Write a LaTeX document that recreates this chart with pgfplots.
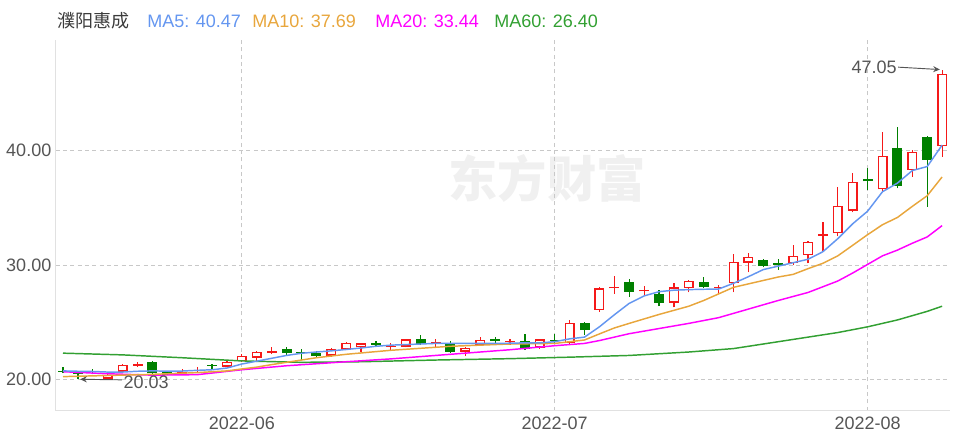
\documentclass[border=0pt]{standalone}
\usepackage{pgfplots}
\pgfplotsset{compat=1.18}
\usepackage{pgfplotstable}
\usepackage{fontspec}
\setmainfont{Liberation Sans}
\newfontfamily\cjk{Noto Sans CJK SC}
\usetikzlibrary{arrows.meta}

\definecolor{kred}{RGB}{245,25,25}
\definecolor{kgreen}{RGB}{0,128,0}
\definecolor{ma5}{RGB}{100,150,240}
\definecolor{ma10}{RGB}{232,166,60}
\definecolor{ma20}{RGB}{255,0,255}
\definecolor{ma60}{RGB}{50,160,50}
\definecolor{txt}{RGB}{85,85,85}
\definecolor{txtdark}{RGB}{60,60,60}
\definecolor{gridc}{RGB}{200,200,200}
\definecolor{axc}{RGB}{225,225,225}

% rising candles (index, open, close, high, low)
\pgfplotstableread{
i o c h l
3 20.08 20.42 20.48 20.06
4 20.68 21.27 21.32 20.62
5 21.20 21.35 21.50 21.10
8 20.50 20.65 20.88 20.42
9 20.75 20.85 21.10 20.65
11 21.12 21.55 21.60 21.05
12 21.60 22.05 22.20 21.50
13 21.90 22.43 22.48 21.55
14 22.30 22.50 22.85 22.25
18 22.08 22.66 22.72 22.00
19 22.64 23.21 23.25 22.55
20 22.81 23.16 23.22 22.43
22 22.85 22.95 23.20 22.60
23 22.86 23.51 23.55 22.80
25 23.10 23.25 23.50 22.80
27 22.43 22.78 22.82 22.05
28 23.00 23.45 23.68 22.95
30 23.25 23.35 23.55 23.05
32 22.78 23.51 23.55 22.70
34 23.16 24.96 25.20 23.10
36 26.07 27.97 28.05 25.92
37 27.95 28.10 29.07 27.50
39 27.70 27.85 28.15 27.40
41 26.71 28.05 28.45 26.30
42 27.97 28.63 28.70 27.60
44 28.00 28.10 28.25 27.50
45 28.40 30.29 30.96 27.60
46 30.20 30.73 31.07 29.35
49 30.15 30.79 31.75 30.00
50 30.87 32.03 32.10 30.15
51 32.55 32.70 33.73 31.20
52 32.77 35.18 36.80 32.50
53 34.74 37.28 38.00 34.60
55 36.61 39.52 41.65 36.40
57 38.30 39.90 40.04 37.71
59 40.39 46.68 47.05 39.46
}\redk

% falling candles
\pgfplotstableread{
i o c h l
0 20.76 20.68 21.05 20.55
1 20.68 20.52 20.75 20.03
2 20.70 20.64 20.92 20.45
6 21.55 20.55 21.60 20.40
7 20.63 20.40 20.66 20.35
10 21.30 21.20 21.35 20.85
15 22.64 22.30 22.80 22.10
16 22.38 22.30 22.64 21.70
17 22.29 22.05 22.50 22.00
21 23.15 23.05 23.40 22.90
24 23.54 23.10 23.90 23.05
26 23.21 22.43 23.40 22.30
29 23.50 23.40 23.70 23.10
31 23.39 22.66 23.95 22.60
33 23.45 23.35 23.95 23.10
35 24.96 24.32 25.00 23.90
38 28.54 27.67 28.80 27.23
40 27.47 26.71 27.80 26.40
43 28.54 28.05 28.98 28.00
47 30.44 29.91 30.50 29.80
48 30.20 30.00 30.50 29.60
54 37.50 37.30 38.44 36.55
56 40.19 36.90 42.03 36.70
58 41.20 39.17 41.30 35.09
}\greenk

\pgfplotstableread{
i v
0 20.75
1 20.72
2 20.70
3 20.65
4 20.65
5 20.72
6 20.75
7 20.73
8 20.74
9 20.80
10 20.85
11 21.00
12 21.35
13 21.60
14 21.85
15 22.10
16 22.29
17 22.40
18 22.50
19 22.62
20 22.75
21 22.90
22 23.00
23 23.05
24 23.10
25 23.15
26 23.16
27 23.15
28 23.15
29 23.15
30 23.17
31 23.20
32 23.20
33 23.30
34 23.55
35 23.70
36 24.60
37 25.65
38 26.65
39 27.30
40 27.67
41 27.80
42 27.85
43 27.88
44 27.90
45 28.40
46 28.98
47 29.60
48 29.90
49 30.20
50 30.50
51 31.16
52 32.30
53 33.60
54 34.70
55 36.40
56 37.15
57 38.25
58 38.60
59 40.47
}\mafive

\pgfplotstableread{
i v
0 20.25
3 20.35
6 20.45
9 20.60
11 20.75
12 20.92
13 21.08
14 21.30
15 21.50
16 21.70
17 21.90
19 22.20
22 22.55
26 22.90
30 23.10
33 23.15
34 23.30
35 23.45
36 23.98
37 24.50
38 24.90
40 25.68
42 26.40
43 26.90
45 28.05
46 28.35
48 28.95
49 29.18
50 29.68
51 30.15
52 30.80
53 31.72
54 32.65
55 33.52
56 34.15
57 35.12
58 36.05
59 37.69
}\maten

\pgfplotstableread{
i v
0 20.68
3 20.50
6 20.38
9 20.42
12 20.85
15 21.20
19 21.55
22 21.80
26 22.20
30 22.60
33 22.95
35 23.15
36 23.40
38 24.00
40 24.45
42 24.90
44 25.40
46 26.15
48 26.90
50 27.60
51 28.10
52 28.60
53 29.30
54 30.05
55 30.80
56 31.30
57 31.90
58 32.45
59 33.44
}\matwenty

\pgfplotstableread{
i v
0 22.30
4 22.15
8 21.90
12 21.62
16 21.50
20 21.55
25 21.70
30 21.82
34 21.95
38 22.10
42 22.40
45 22.70
48 23.30
50 23.70
52 24.10
54 24.60
56 25.20
58 25.95
59 26.40
}\masixty

\pgfplotsset{candle/.style={draw=none, mark=none,
    error bars/.cd, y dir=plus, y explicit, error mark=none, /pgfplots/.cd}}

\begin{document}
\begin{tikzpicture}[x=0.75pt,y=0.75pt]
\path[use as bounding box] (-55.55,-30.3) rectangle (897.45,410.7);
\node[text=gray!12, font=\cjk\bfseries\fontsize{37}{40}\selectfont] at (491.5,232.7) {东方财富};
\begin{axis}[
    at={(0,0)}, anchor=south west,
    scale only axis,
    width=670.5pt, height=278pt,
    xmin=-0.5, xmax=59.5,
    ymin=17.275, ymax=49.65,
    axis line style={draw=none},
    major tick length=0pt,
    xtick={12,33,54},
    xticklabels={2022-06,2022-07,2022-08},
    ytick={20,30,40},
    yticklabels={20.00,30.00,40.00},
    grid=major,
    major grid style={draw=gridc, dash pattern=on 3pt off 2.5pt, line width=0.75pt},
    ticklabel style={font=\fontsize{13.5}{16}\selectfont, text=txt},
    yticklabel style={inner sep=0pt, xshift=-3pt},
    xticklabel style={inner sep=0pt, yshift=-4.5pt},
    clip=false,
]
\draw[axc, line width=0.75pt] (rel axis cs:0,1) -- (rel axis cs:0,0) -- (rel axis cs:1,0);

% wicks
\addplot[candle, error bars/error bar style={kred, line width=0.9pt}]
    table[x=i, y=l, y error plus expr=\thisrow{h}-\thisrow{l}] {\redk};
\addplot[candle, error bars/error bar style={kgreen, line width=0.9pt}]
    table[x=i, y=l, y error plus expr=\thisrow{h}-\thisrow{l}] {\greenk};

% bodies
\addplot[candle, error bars/error bar style={kred, line width=7.5pt}]
    table[x=i, y=o, y error plus expr=\thisrow{c}-\thisrow{o}] {\redk};
\addplot[restrict expr to domain={\thisrow{c}-\thisrow{o}}{0.34:1000}, candle,
    error bars/error bar style={white, line width=5.4pt}]
    table[x=i, y expr=\thisrow{o}+0.12, y error plus expr=\thisrow{c}-\thisrow{o}-0.24] {\redk};
\addplot[candle, error bars/error bar style={kgreen, line width=7.5pt}]
    table[x=i, y=c, y error plus expr=\thisrow{o}-\thisrow{c}] {\greenk};

% moving averages
\addplot[ma60, line width=1.1pt, mark=none] table[x=i, y=v] {\masixty};
\addplot[ma20, line width=1.1pt, mark=none] table[x=i, y=v] {\matwenty};
\addplot[ma10, line width=1.1pt, mark=none] table[x=i, y=v] {\maten};
\addplot[ma5, line width=1.1pt, mark=none] table[x=i, y=v] {\mafive};

% high / low marks
\draw[txt, line width=0.7pt, -{Stealth[length=5pt,width=4.5pt]}] (axis cs:56.05,47.28) -- (axis cs:58.85,47.07);
\node[anchor=east, inner sep=0pt, text=txt, font=\fontsize{13.5}{16}\selectfont] at (axis cs:55.97,47.26) {47.05};
\draw[txt, line width=0.7pt, -{Stealth[length=5pt,width=4.5pt]}] (axis cs:3.95,19.97) -- (axis cs:1.15,20.02);
\node[anchor=west, inner sep=0pt, text=txt, font=\fontsize{13.5}{16}\selectfont] at (axis cs:4.05,19.78) {20.03};
\end{axis}

\node[anchor=base west, inner sep=0pt, text=txtdark, font=\cjk\fontsize{13.5}{16}\selectfont] at (1.45,382.7) {濮阳惠成};
\node[anchor=base west, inner sep=0pt, text=ma5, font=\fontsize{13.5}{16}\selectfont] at (91.45,382.7) {MA5: 40.47};
\node[anchor=base west, inner sep=0pt, text=ma10, font=\fontsize{13.5}{16}\selectfont] at (196.45,382.7) {MA10: 37.69};
\node[anchor=base west, inner sep=0pt, text=ma20, font=\fontsize{13.5}{16}\selectfont] at (319.45,382.7) {MA20: 33.44};
\node[anchor=base west, inner sep=0pt, text=ma60, font=\fontsize{13.5}{16}\selectfont] at (438.45,382.7) {MA60: 26.40};
\end{tikzpicture}
\end{document}
